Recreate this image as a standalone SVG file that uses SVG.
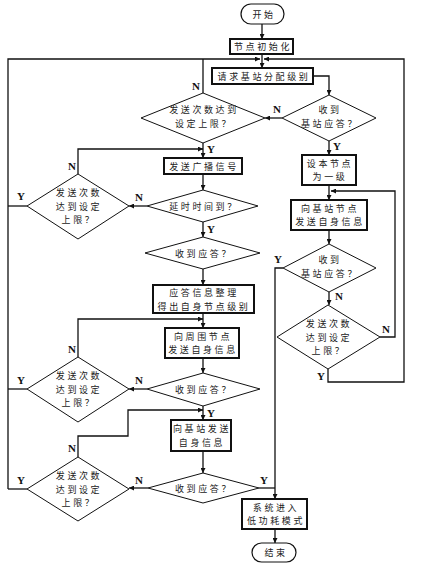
<svg xmlns="http://www.w3.org/2000/svg" width="440" height="567" viewBox="0 0 440 567">
<style>
.bx{fill:#fff;stroke:#111;stroke-width:2}
.tm{fill:#fff;stroke:#111;stroke-width:1.2}
.dm{fill:#fff;stroke:#111;stroke-width:1}
.t{font-family:"Noto Sans CJK SC","Noto Sans",sans-serif;font-size:9px;letter-spacing:2.6px;fill:#222;text-anchor:middle}
.c{fill:none;stroke:#111;stroke-width:1.3}
.l{font-family:"Liberation Serif",serif;font-size:11px;font-weight:bold;fill:#111;text-anchor:middle}
</style>
<defs>
<marker id="a" viewBox="0 0 10 10" refX="10" refY="5" markerWidth="6" markerHeight="5" markerUnits="userSpaceOnUse" orient="auto"><path d="M0,0L10,5L0,10z" fill="#111"/></marker>
</defs>
<rect width="440" height="567" fill="#fff"/>
<g id="connectors">
<path class="c" d="M262,24V39" marker-end="url(#a)"/>
<path class="c" d="M262,54V68" marker-end="url(#a)"/>
<path class="c" d="M8,489V59H260" marker-end="url(#a)"/>
<path class="c" d="M328,369V382H404V59H264" marker-end="url(#a)"/>
<path class="c" d="M203,93V59"/>
<path class="c" d="M313,76H329V95" marker-end="url(#a)"/>
<path class="c" d="M282,118H265" marker-end="url(#a)"/>
<path class="c" d="M203,143V158" marker-end="url(#a)"/>
<path class="c" d="M78,174V149H203" marker-end="url(#a)"/>
<path class="c" d="M203,174V190" marker-end="url(#a)"/>
<path class="c" d="M147,206H129" marker-end="url(#a)"/>
<path class="c" d="M27,206H8"/>
<path class="c" d="M203,222V237" marker-end="url(#a)"/>
<path class="c" d="M203,269V285" marker-end="url(#a)"/>
<path class="c" d="M203,313V328" marker-end="url(#a)"/>
<path class="c" d="M78,357V319H203" marker-end="url(#a)"/>
<path class="c" d="M203,358V373" marker-end="url(#a)"/>
<path class="c" d="M147,389H129" marker-end="url(#a)"/>
<path class="c" d="M27,389H8"/>
<path class="c" d="M203,406V420" marker-end="url(#a)"/>
<path class="c" d="M78,457V436H128V410H203" marker-end="url(#a)"/>
<path class="c" d="M203,451V473" marker-end="url(#a)"/>
<path class="c" d="M148,488H129" marker-end="url(#a)"/>
<path class="c" d="M27,489H8"/>
<path class="c" d="M259,488H275"/>
<path class="c" d="M283,268H275V499" marker-end="url(#a)"/>
<path class="c" d="M275,529V543" marker-end="url(#a)"/>
<path class="c" d="M329,141V155" marker-end="url(#a)"/>
<path class="c" d="M329,185V200" marker-end="url(#a)"/>
<path class="c" d="M329,230V244" marker-end="url(#a)"/>
<path class="c" d="M329,292V305" marker-end="url(#a)"/>
<path class="c" d="M380,337H395V191H331" marker-end="url(#a)"/>
<text class="l" x="196" y="90">N</text>
<text class="l" x="277" y="113">N</text>
<text class="l" x="211" y="153">Y</text>
<text class="l" x="72" y="170">N</text>
<text class="l" x="139" y="201">N</text>
<text class="l" x="21" y="200">Y</text>
<text class="l" x="211" y="233">Y</text>
<text class="l" x="72" y="353">N</text>
<text class="l" x="139" y="384">N</text>
<text class="l" x="21" y="384">Y</text>
<text class="l" x="211" y="417">Y</text>
<text class="l" x="72" y="452">N</text>
<text class="l" x="139" y="484">N</text>
<text class="l" x="21" y="484">Y</text>
<text class="l" x="264" y="484">Y</text>
<text class="l" x="278" y="263">Y</text>
<text class="l" x="337" y="150">Y</text>
<text class="l" x="339" y="300">N</text>
<text class="l" x="386" y="333">N</text>
<text class="l" x="321" y="380">Y</text>
</g>
<g id="start"><rect class="tm" x="241" y="4" width="43" height="20" rx="10"/><text class="t" x="264" y="17.5">开始</text></g>
<g id="init"><rect class="bx" x="230" y="39" width="63" height="15"/><text class="t" x="263" y="49.5">节点初始化</text></g>
<g id="req"><rect class="bx" x="212" y="68" width="101" height="16"/><text class="t" x="264" y="79.5">请求基站分配级别</text></g>
<g id="recv1"><polygon class="dm" points="329,95 376,118 329,141 282,118"/><text class="t" x="330" y="113">收到</text><text class="t" x="330" y="127">基站应答？</text></g>
<g id="lim1"><polygon class="dm" points="203,93 265,118 203,143 141,118"/><text class="t" x="204" y="113">发送次数达到</text><text class="t" x="204" y="127">设定上限？</text></g>
<g id="bcast"><rect class="bx" x="164" y="158" width="78" height="16"/><text class="t" x="204" y="169.5">发送广播信号</text></g>
<g id="delay"><polygon class="dm" points="203,190 258,206 203,222 147,206"/><text class="t" x="204" y="209.5">延时时间到？</text></g>
<g id="lim2"><polygon class="dm" points="78,174 129,206 78,239 27,206"/><text class="t" x="79" y="196">发送次数</text><text class="t" x="79" y="209.5">达到设定</text><text class="t" x="79" y="223">上限？</text></g>
<g id="ack1"><polygon class="dm" points="203,237 260,253 203,269 145,253"/><text class="t" x="204" y="256.5">收到应答？</text></g>
<g id="sort"><rect class="bx" x="153" y="285" width="101" height="28"/><text class="t" x="204" y="296">应答信息整理</text><text class="t" x="204" y="309.5">得出自身节点级别</text></g>
<g id="neigh"><rect class="bx" x="165" y="328" width="74" height="30"/><text class="t" x="203" y="339.5">向周围节点</text><text class="t" x="203" y="353">发送自身信息</text></g>
<g id="ack2"><polygon class="dm" points="203,373 260,389 203,406 147,389"/><text class="t" x="204" y="392.5">收到应答？</text></g>
<g id="lim3"><polygon class="dm" points="78,357 129,389 78,422 27,389"/><text class="t" x="79" y="379">发送次数</text><text class="t" x="79" y="392.5">达到设定</text><text class="t" x="79" y="406">上限？</text></g>
<g id="tobase"><rect class="bx" x="171" y="420" width="60" height="31"/><text class="t" x="202" y="432">向基站发送</text><text class="t" x="202" y="446">自身信息</text></g>
<g id="ack3"><polygon class="dm" points="203,473 259,488 203,503 148,488"/><text class="t" x="204" y="491.5">收到应答？</text></g>
<g id="lim4"><polygon class="dm" points="78,457 129,489 78,521 27,489"/><text class="t" x="79" y="479">发送次数</text><text class="t" x="79" y="492.5">达到设定</text><text class="t" x="79" y="506">上限？</text></g>
<g id="lowpow"><rect class="bx" x="242" y="499" width="65" height="30"/><text class="t" x="276" y="510.5">系统进入</text><text class="t" x="276" y="524">低功耗模式</text></g>
<g id="end"><rect class="tm" x="252" y="543" width="44" height="19" rx="9.5"/><text class="t" x="276" y="555.5">结束</text></g>
<g id="setlvl"><rect class="bx" x="302" y="155" width="54" height="30"/><text class="t" x="330" y="166.5">设本节点</text><text class="t" x="330" y="180">为一级</text></g>
<g id="sendbase"><rect class="bx" x="291" y="200" width="76" height="30"/><text class="t" x="330" y="211.5">向基站节点</text><text class="t" x="330" y="225">发送自身信息</text></g>
<g id="recv2"><polygon class="dm" points="329,244 376,268 329,292 283,268"/><text class="t" x="330" y="263">收到</text><text class="t" x="330" y="277">基站应答？</text></g>
<g id="lim5"><polygon class="dm" points="328,305 380,337 328,369 277,337"/><text class="t" x="329" y="327">发送次数</text><text class="t" x="329" y="340.5">达到设定</text><text class="t" x="329" y="354">上限？</text></g>
</svg>
